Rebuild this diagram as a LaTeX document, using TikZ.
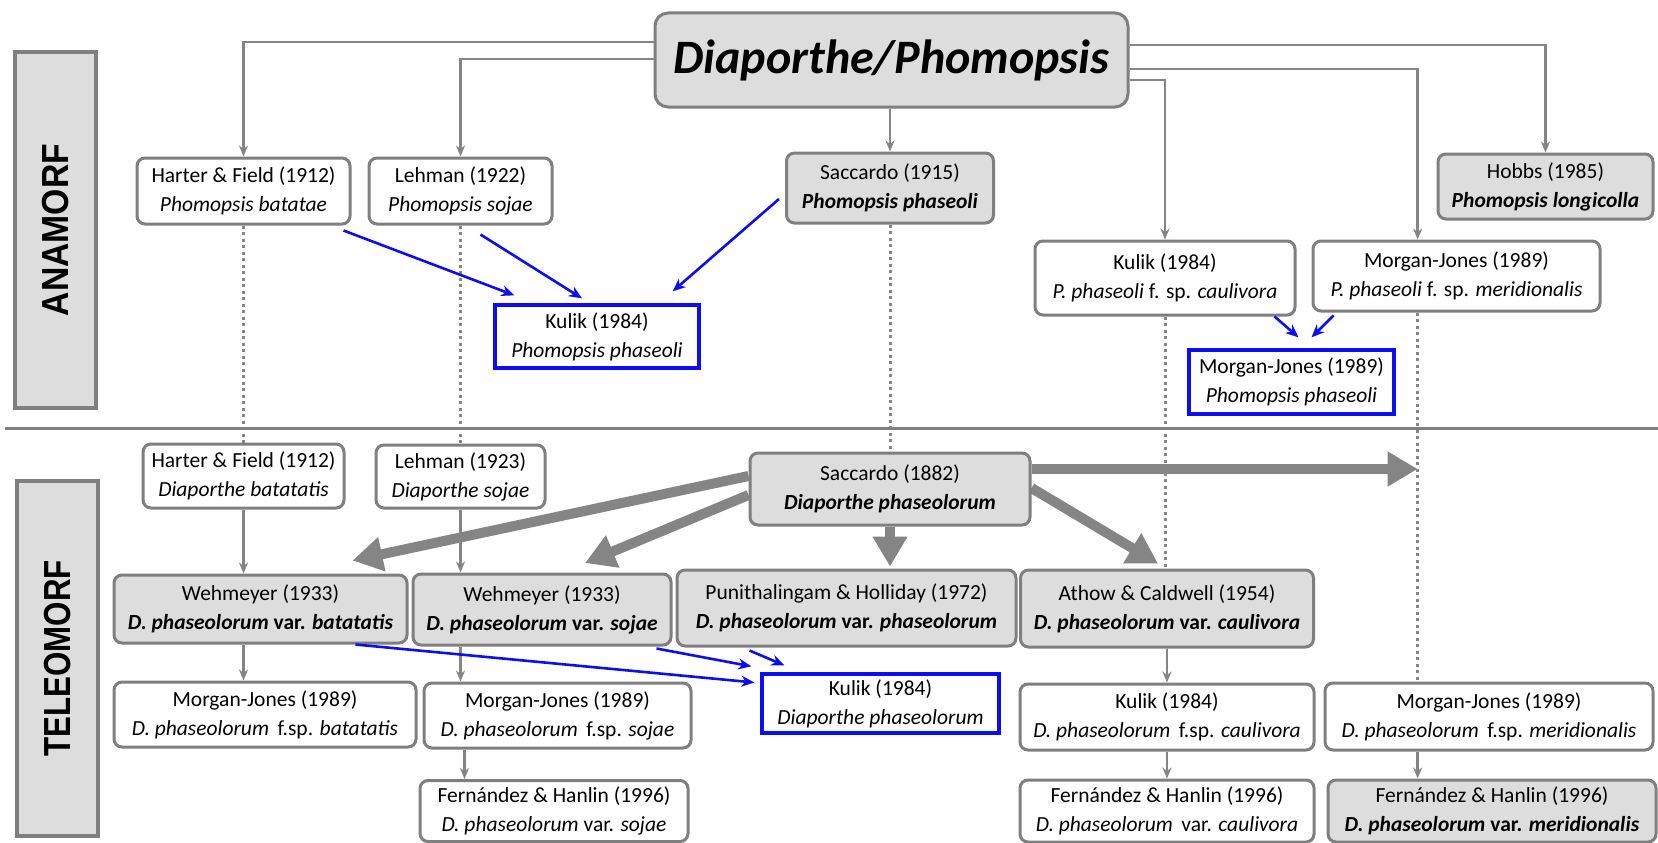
\documentclass[tikz,border=0pt]{standalone}
\usepackage{fontspec}
\setmainfont{Carlito}
\newfontfamily\labelfont{Liberation Sans}
\usetikzlibrary{arrows.meta,calc}
\definecolor{bgray}{HTML}{7F7F7F}
\definecolor{fgray}{HTML}{DDDDDD}
\definecolor{lgray}{HTML}{858585}
\definecolor{bblue}{HTML}{0D0DF2}
\pgfdeclarelayer{bg}
\pgfsetlayers{bg,main}
\tikzset{
  box/.style={draw=bgray, line width=3pt, rounded corners=8pt, fill=white, align=center, inner sep=0pt,
    font=\fontsize{21.5}{29}\selectfont},
  gbox/.style={box, fill=fgray},
  bluebox/.style={box, draw=bblue, rounded corners=0pt, line width=3.3pt},
  lab/.style={draw=bgray, fill=fgray, line width=3.5pt, inner sep=0pt, rotate=90,
    font=\labelfont\bfseries\fontsize{37.7}{38}\selectfont},
  conn/.style={draw=lgray, line width=2.7pt, -{Stealth[length=11pt,width=9pt]}},
  dots/.style={draw=lgray, line width=3pt, dash pattern=on 3pt off 3.5pt},
  big/.style={draw=lgray, line width=10pt, -{Triangle[length=30pt,width=33pt]}},
  barrow/.style={draw=bblue, line width=2.6pt, -{Stealth[length=13pt,width=11pt]}},
  sep/.style={draw=bgray, line width=3pt}
}
\begin{document}
\begin{tikzpicture}[x=1pt,y=-1pt]
\useasboundingbox (0,0) rectangle (1658,843);

% labels
\node[lab, minimum width=356pt, minimum height=81pt] (anaLabel) at (55.5,230) {\scalebox{0.895}[1]{ANAMORF}};
\node[lab, minimum width=355pt, minimum height=81pt] (teleLabel) at (57.5,658.5) {\scalebox{0.83}[1]{TELEOMORF}};

% separator
\coordinate (sepL) at (5,428);
\coordinate (sepR) at (1658,428);
\draw[sep] (sepL) -- (sepR);

% title
\node[gbox, line width=3pt, rounded corners=13pt, minimum width=473pt, minimum height=94pt,
  font=\fontsize{48}{48}\selectfont\bfseries\itshape] (title) at (891.5,60) {\raisebox{6pt}{Diaporthe/Phomopsis}};

% anamorph boxes
\node[box, minimum width=213pt, minimum height=66pt] (harterA) at (243.5,191) {Harter \& Field (1912)\\\textit{Phomopsis batatae}};
\node[box, minimum width=183pt, minimum height=66pt] (lehmanA) at (460.5,191) {Lehman (1922)\\\textit{Phomopsis sojae}};
\node[gbox, minimum width=207pt, minimum height=70pt] (saccA) at (890,188) {Saccardo (1915)\\\textbf{\textit{Phomopsis phaseoli}}};
\node[gbox, minimum width=215pt, minimum height=65pt] (hobbs) at (1545.5,186.5) {Hobbs (1985)\\\textbf{\textit{Phomopsis longicolla}}};
\node[box, minimum width=260pt, minimum height=74pt] (kulikA) at (1165,278) {Kulik (1984)\\\textit{P. phaseoli} f. sp. \textit{caulivora}};
\node[box, minimum width=287pt, minimum height=70pt] (morganA) at (1456.5,276) {Morgan-Jones (1989)\\\textit{P. phaseoli} f. sp. \textit{meridionalis}};
\node[bluebox, minimum width=204pt, minimum height=63pt] (kulikB) at (597,336.5) {Kulik (1984)\\\textit{Phomopsis phaseoli}};
\node[bluebox, minimum width=205pt, minimum height=64pt] (morganB) at (1291.5,382) {Morgan-Jones (1989)\\\textit{Phomopsis phaseoli}};

% teleomorph boxes
\node[box, minimum width=201pt, minimum height=64pt] (harterT) at (243.5,476) {Harter \& Field (1912)\\\textit{Diaporthe batatatis}};
\node[box, minimum width=169pt, minimum height=63pt] (lehmanT) at (460.5,476.5) {Lehman (1923)\\\textit{Diaporthe sojae}};
\node[gbox, minimum width=280pt, minimum height=72pt] (saccT) at (890,489) {Saccardo (1882)\\\textbf{\textit{Diaporthe phaseolorum}}};
\node[gbox, minimum width=293pt, minimum height=68pt] (wehB) at (260.5,609) {Wehmeyer (1933)\\\textbf{\textit{D. phaseolorum} var. \textit{batatatis}}};
\node[gbox, minimum width=258pt, minimum height=71pt] (wehS) at (542,609.5) {Wehmeyer (1933)\\\textbf{\textit{D. phaseolorum} var. \textit{sojae}}};
\node[gbox, minimum width=339pt, minimum height=76pt] (puni) at (846.5,608) {Punithalingam \& Holliday (1972)\\\textbf{\textit{D. phaseolorum} var. \textit{phaseolorum}}};
\node[gbox, minimum width=293pt, minimum height=77pt] (athow) at (1167,608.5) {Athow \& Caldwell (1954)\\\textbf{\textit{D. phaseolorum} var. \textit{caulivora}}};
\node[bluebox, minimum width=237pt, minimum height=59pt] (kulikC) at (880.5,703.5) {Kulik (1984)\\\textit{Diaporthe phaseolorum}};
\node[box, minimum width=302pt, minimum height=65pt] (morganBat) at (265,714.5) {Morgan-Jones (1989)\\\textit{D. phaseolorum}\, f.sp. \textit{batatatis}};
\node[box, minimum width=267pt, minimum height=65pt] (morganSoj) at (557.5,715.5) {Morgan-Jones (1989)\\\textit{D. phaseolorum}\, f.sp. \textit{sojae}};
\node[box, minimum width=268pt, minimum height=61pt] (fernSoj) at (554,811) {Fern\'andez \& Hanlin (1996)\\\textit{D. phaseolorum} var. \textit{sojae}};
\node[box, minimum width=294pt, minimum height=66pt] (kulikCaul) at (1167,717) {Kulik (1984)\\\textit{D. phaseolorum}\, f.sp. \textit{caulivora}};
\node[box, minimum width=328pt, minimum height=67pt] (morganMer) at (1489,716.5) {Morgan-Jones (1989)\\\textit{D. phaseolorum}\, f.sp. \textit{meridionalis}};
\node[box, minimum width=294pt, minimum height=62pt] (fernCaul) at (1167,811) {Fern\'andez \& Hanlin (1996)\\\textit{D. phaseolorum}\, var. \textit{caulivora}};
\node[gbox, minimum width=328pt, minimum height=62pt] (fernMer) at (1492,811) {Fern\'andez \& Hanlin (1996)\\\textbf{\textit{D. phaseolorum} var. \textit{meridionalis}}};

\coordinate (mjA) at ($(morganA.south west)!0.366!(morganA.south east)$);
\coordinate (hs) at ([yshift=20pt]saccT.east);

% title connectors
\draw[conn] (title.west |- 0,42) -| (harterA.north);
\draw[conn] (title.west |- 0,59) -| (lehmanA.north);
\draw[conn] (title.south -| saccA.north) -- (saccA.north);
\draw[conn] (title.east |- 0,45) -| (hobbs.north);
\draw[conn] (title.east |- 0,69) -| (mjA |- morganA.north);
\draw[conn] (title.east |- 0,80) -| (kulikA.north);

\begin{pgfonlayer}{bg}
\fill[white] (0,0) rectangle (1658,843);
\draw[dots] (harterA.south) -- (harterT.north);
\draw[dots] (lehmanA.south) -- (lehmanT.north);
\draw[dots] (saccA.south) -- (saccT.north);
\draw[dots] (kulikA.south) -- (kulikA.south |- athow.north);
\draw[dots] (mjA) -- (mjA |- morganMer.north);
\draw[big] ([yshift=13pt]saccT.west) -- ([xshift=92pt,yshift=13pt]wehB.north);
\draw[big] ([yshift=-6pt]saccT.west) -- ([xshift=43pt,yshift=9.5pt]wehS.north);
\draw[big] (saccT.south) -- ([yshift=2pt]saccT.south |- puni.north);
\draw[big] ([yshift=1pt]saccT.east) -- ([xshift=-9pt,yshift=5pt]athow.north);
\draw[big] (hs) -- (mjA |- hs);
\end{pgfonlayer}

% teleomorph thin arrows
\draw[conn] (harterT.south) -- (harterT.south |- wehB.north);
\draw[conn] (lehmanT.south) -- (lehmanT.south |- wehS.north);
\draw[conn] (wehB.south -| harterT.south) -- (morganBat.north -| harterT.south);
\draw[conn] (wehS.south -| lehmanT.south) -- (morganSoj.north -| lehmanT.south);
\draw[conn] ([xshift=4pt]morganSoj.south -| lehmanT.south) -- ([xshift=4pt]fernSoj.north -| lehmanT.south);
\draw[conn] (athow.south) -- (athow.south |- kulikCaul.north);
\draw[conn] (kulikCaul.south) -- (fernCaul.north);
\draw[conn] (morganMer.south -| mjA) -- (fernMer.north -| mjA);

% blue arrows
\draw[barrow] ([xshift=-8pt,yshift=-5pt]harterA.south east) -- ([xshift=21pt,yshift=8pt]kulikB.north west);
\draw[barrow] ([xshift=20pt,yshift=-9pt]lehmanA.south) -- ([xshift=-15pt,yshift=5pt]kulikB.north);
\draw[barrow] ([xshift=-6pt,yshift=-11pt]saccA.west) -- ([xshift=-28pt,yshift=12pt]kulikB.north east);
\draw[barrow] ([xshift=-22pt]kulikA.south east) -- ([xshift=7pt,yshift=11pt]morganB.north);
\draw[barrow] ([xshift=22pt,yshift=-3pt]morganA.south west) -- ([xshift=20pt,yshift=11pt]morganB.north);
\draw[barrow] ([xshift=-53pt]wehB.south east) -- ([xshift=-6pt,yshift=21pt]kulikC.west);
\draw[barrow] ([xshift=-16pt,yshift=-2pt]wehS.south east) -- ([xshift=-9pt,yshift=6pt]kulikC.north west);
\draw[barrow] ([xshift=74pt,yshift=-3pt]puni.south west) -- ([xshift=24pt,yshift=7pt]kulikC.north west);
\end{tikzpicture}
\end{document}
